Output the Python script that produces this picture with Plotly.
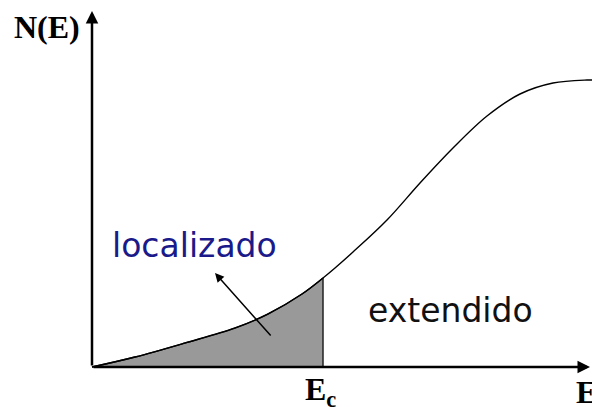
import plotly.graph_objects as go

# density of states N(E) vs energy E (arbitrary units)
energy = [0, 43, 93, 143, 176, 210, 231, 243, 261, 295, 328, 361, 395, 428, 461, 495, 500]
dos = [0, 10, 24, 39, 53, 73, 89, 99, 115, 147, 184, 219, 251, 273, 284, 287, 287]
e_c = 231

n_loc = energy.index(e_c) + 1
loc_e = energy[:n_loc]
loc_n = dos[:n_loc]

fig = go.Figure()

# shaded localized region
fig.add_trace(go.Scatter(x=loc_e, y=loc_n, mode="lines", fill="tozeroy", fillcolor="#999999",
                         line=dict(color="black", width=1.3, shape="spline", smoothing=1)))
fig.add_trace(go.Scatter(x=[e_c, e_c], y=[0, dos[n_loc - 1]], mode="lines",
                         line=dict(color="#222222", width=1.5)))
# full curve
fig.add_trace(go.Scatter(x=energy, y=dos, mode="lines",
                         line=dict(color="black", width=1.4, shape="spline", smoothing=1)))

ax_style = dict(showarrow=True, arrowhead=2, arrowsize=1, arrowwidth=2.5, arrowcolor="black",
                axref="x", ayref="y", xref="x", yref="y", text="")
# axes as arrows
fig.add_annotation(x=0, y=356, ax=0, ay=0, **ax_style)
fig.add_annotation(x=498, y=0, ax=0, ay=0, **ax_style)
# arrow pointing to label
fig.add_annotation(x=123, y=94, ax=180, ay=30, showarrow=True, arrowhead=2, arrowsize=1.2,
                   arrowwidth=1.5, arrowcolor="black", axref="x", ayref="y", text="")

serif = dict(family="Liberation Serif", size=32, color="black")
fig.add_annotation(x=-45, y=340, text="<b>N(E)</b>", showarrow=False, font=serif)
fig.add_annotation(x=228, y=-24, text="<b>E<sub>c</sub></b>", showarrow=False, font=serif)
fig.add_annotation(x=482, y=-25, text="<b>E</b>", showarrow=False, font=serif, xanchor="left")

sans = dict(family="DejaVu Sans", size=33)
fig.add_annotation(x=102, y=122, text="localizado", showarrow=False,
                   font=dict(color="#1a1a8a", **sans))
fig.add_annotation(x=358, y=57, text="extendido", showarrow=False,
                   font=dict(color="#111111", **sans))

fig.update_layout(width=592, height=407, margin=dict(l=0, r=0, t=0, b=0),
                  plot_bgcolor="white", paper_bgcolor="white", showlegend=False,
                  xaxis=dict(range=[-92, 500], visible=False),
                  yaxis=dict(range=[-40, 367], visible=False))

fig.write_html("out.html", config={"displayModeBar": False},
               post_script="document.body.style.margin='0';")
